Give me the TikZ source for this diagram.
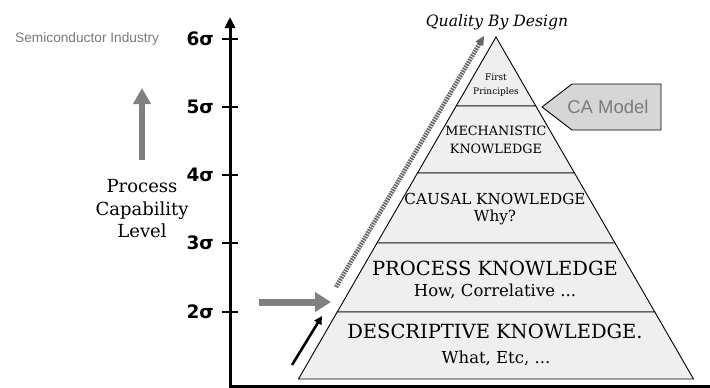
\documentclass[tikz,border=0pt]{standalone}
\usepackage{fontspec}
\newfontfamily\arialfont{Liberation Sans}
\newfontfamily\heavyfont{DejaVu Sans}
\newfontfamily\bookfont{DejaVu Serif}
\usetikzlibrary{arrows.meta}
\definecolor{layerfill}{HTML}{EFEFEF}
\definecolor{arrowgray}{HTML}{808080}
\definecolor{dotgray}{HTML}{666666}
\definecolor{boxgray}{HTML}{D6D6D6}
\definecolor{labelgray}{HTML}{7A7A7A}
\tikzset{
  layer/.style={draw=black, line width=0.9pt, fill=layerfill, line join=miter},
  sigmalabel/.style={anchor=east, font=\heavyfont\bfseries\fontsize{18.5}{18.5}\selectfont, inner sep=0pt},
  tickmark/.style={line width=2.6pt},
  pyrtext/.style={align=center, inner sep=0pt},
  fatgray/.style={draw=arrowgray, line width=#1},
}
\begin{document}
\begin{tikzpicture}[x=1pt,y=-1pt]
\useasboundingbox (0,0) rectangle (710,388);

% ---- axes ----
\coordinate (origin) at (230,386.5);
\coordinate (ytop) at (230,17);
\coordinate (xend) at (710,386.5);
\draw[line width=3pt, -{Triangle[length=11pt,width=10pt]}] (origin) -- (ytop);
\draw[line width=3pt] (228.5,386.5) -- (xend);

% ticks and sigma labels
\foreach \lev/\yy in {6/39,5/107,4/175,3/243,2/312}{
  \coordinate (tick\lev) at (230,\yy);
  \draw[tickmark] (222,\yy) -- (238,\yy);
  \node[sigmalabel] (sig\lev) at (214,\yy) {\lev σ};
}

% ---- left side labels ----
\node[font=\arialfont\fontsize{13.7}{14}\selectfont, text=labelgray, anchor=west, inner sep=0pt]
  (semi) at (15,39) {Semiconductor Industry};
\node[align=center, font=\bookfont\fontsize{18}{22.5}\selectfont, inner sep=0pt]
  (pcl) at (142,209) {Process\\Capability\\Level};
\coordinate (upfrom) at (142,160);
\coordinate (upto) at (142,88);
\draw[fatgray=6pt, -{Triangle[length=16pt,width=17pt]}] (upfrom) -- (upto);

% ---- pyramid ----
\coordinate (apex) at (496,37);
\coordinate (bl) at (298.5,379);
\coordinate (br) at (693.5,379);
\draw[layer] (apex) -- (456.2,106) -- (535.8,106) -- cycle;
\draw[layer] (456.2,106) -- (417.5,173) -- (574.5,173) -- (535.8,106) -- cycle;
\draw[layer] (417.5,173) -- (377,243) -- (615,243) -- (574.5,173) -- cycle;
\draw[layer] (377,243) -- (337.2,312) -- (654.8,312) -- (615,243) -- cycle;
\draw[layer] (337.2,312) -- (bl) -- (br) -- (654.8,312) -- cycle;

\node[pyrtext, font=\bookfont\fontsize{9}{13.5}\selectfont] (fp) at (496,85) {First\\Principles};
\node[pyrtext, font=\bookfont\fontsize{12.8}{18}\selectfont] (mech) at (496,140) {MECHANISTIC\\KNOWLEDGE};
\node[pyrtext, font=\bookfont\fontsize{15.2}{17.5}\selectfont] (causal) at (495,209) {CAUSAL KNOWLEDGE\\Why?};
\node[pyrtext, font=\bookfont\fontsize{19.5}{19.5}\selectfont] (proc) at (495,268) {PROCESS KNOWLEDGE};
\node[pyrtext, font=\bookfont\fontsize{16.5}{16.5}\selectfont] (procsub) at (495,291) {How, Correlative ...};
\node[pyrtext, font=\bookfont\fontsize{19.5}{19.5}\selectfont] (desc) at (495,331) {DESCRIPTIVE KNOWLEDGE.};
\node[pyrtext, font=\bookfont\fontsize{16.5}{16.5}\selectfont] (descsub) at (496,358) {What, Etc, ...};

\node[font=\bookfont\itshape\fontsize{15.6}{15.6}\selectfont, inner sep=0pt] (qbd) at (497,22) {Quality By Design};

% ---- CA model tag ----
\draw[draw=black, line width=0.9pt, fill=boxgray] (542,107) -- (572,84) -- (661,84) -- (661,130) -- (572,130) -- cycle;
\node[font=\arialfont\fontsize{18.5}{18.5}\selectfont, text=labelgray, inner sep=0pt] (ca) at (608,107) {CA Model};

% ---- arrows beside the pyramid ----
\coordinate (dotfrom) at (336,287);
\coordinate (dotto) at (484,36);
\draw[draw=dotgray, line width=4.5pt, dash pattern=on 1.6pt off 1pt,
  -{Triangle[length=9pt,width=9pt,fill=dotgray,line width=0pt]}] (dotfrom) -- (dotto);
\coordinate (rfrom) at (259,302);
\coordinate (rto) at (331,302);
\draw[fatgray=7pt, -{Triangle[length=16pt,width=19pt]}] (rfrom) -- (rto);
\coordinate (bfrom) at (292,365);
\coordinate (bto) at (322,316);
\draw[line width=2.6pt, -{Triangle[length=8pt,width=8pt]}] (bfrom) -- (bto);
\end{tikzpicture}
\end{document}
